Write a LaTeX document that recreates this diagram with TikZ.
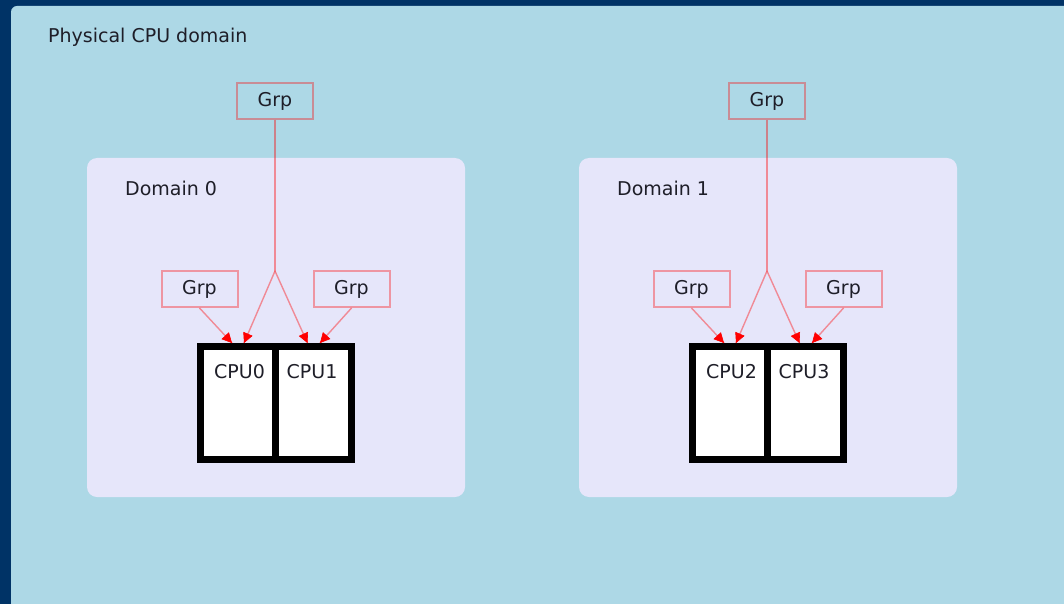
\documentclass[tikz,border=0pt]{standalone}
\usepackage{fontspec}
\setmainfont{DejaVu Sans}
\usetikzlibrary{arrows.meta,calc}
\definecolor{frameblue}{RGB}{0,51,102}
\definecolor{bgblue}{RGB}{173,216,230}
\definecolor{lav}{RGB}{230,230,250}
\definecolor{txt}{RGB}{30,30,40}
\tikzset{
  lbl/.style={text=txt, inner sep=0pt, font=\fontsize{19}{23}\selectfont},
  domainbox/.style={fill=lav, rounded corners=10},
  grpbox/.style={draw=red, draw opacity=0.35, line width=2, minimum width=76, minimum height=36, inner sep=0pt, text=txt, font=\fontsize{19}{23}\selectfont},
  cpucell/.style={draw=black, fill=white, line width=7, minimum width=75.5, minimum height=113, inner sep=0pt},
  link/.style={draw=red, draw opacity=0.4, line width=1.4},
  tipline/.style={draw=red, fill=red, line width=0.6, -{Triangle[length=10,width=10]}},
}
\begin{document}
\begin{tikzpicture}[x=1pt,y=-1pt]
\useasboundingbox (0,0) rectangle (1064,604);
\fill[frameblue] (0,0) rectangle (1064,604);
\fill[bgblue] (1064,604) -- (11,604) [rounded corners=6] -- (11,6) [sharp corners] -- (1064,6) -- cycle;
\node[lbl, anchor=base west] (phys) at (48,43) {Physical CPU domain};

\foreach \dx/\n/\a/\b in {0/0/0/1, 492/1/2/3} {
  \begin{scope}[shift={(\dx,0)}]
    \fill[domainbox] (87,158) rectangle (465,497);
    \node[lbl, anchor=base west] (dom\n) at (125,195) {Domain \n};
    \node[grpbox] (gtop\n) at (275,101) {Grp};
    \node[grpbox] (gl\n) at (199.5,289) {Grp};
    \node[grpbox] (gr\n) at (351.5,289) {Grp};
    \node[cpucell] (cpu\a) at (238,403) {};
    \node[cpucell] (cpu\b) at (313.5,403) {};
    \node[lbl, anchor=base] (t\a) at (239.5,378) {CPU\a};
    \node[lbl, anchor=base] (t\b) at (312,378) {CPU\b};
    \coordinate (apex\n) at (275,271);
    \coordinate (e1\n) at ([xshift=-6]cpu\a.north);
    \coordinate (e2\n) at ([xshift=6]cpu\a.north);
    \coordinate (e3\n) at ([xshift=-6]cpu\b.north);
    \coordinate (e4\n) at ([xshift=6.5]cpu\b.north);
    \draw[link] (gtop\n.south) -- (apex\n);
    \draw[link] (apex\n) -- (e2\n);
    \draw[link] (apex\n) -- (e3\n);
    \draw[link] (gl\n.south) -- (e1\n);
    \draw[link] (gr\n.south) -- (e4\n);
    \draw[tipline] ($(e1\n)!10pt!(gl\n.south)$) -- (e1\n);
    \draw[tipline] ($(e2\n)!10pt!(apex\n)$) -- (e2\n);
    \draw[tipline] ($(e3\n)!10pt!(apex\n)$) -- (e3\n);
    \draw[tipline] ($(e4\n)!10pt!(gr\n.south)$) -- (e4\n);
  \end{scope}
}
\end{tikzpicture}
\end{document}
